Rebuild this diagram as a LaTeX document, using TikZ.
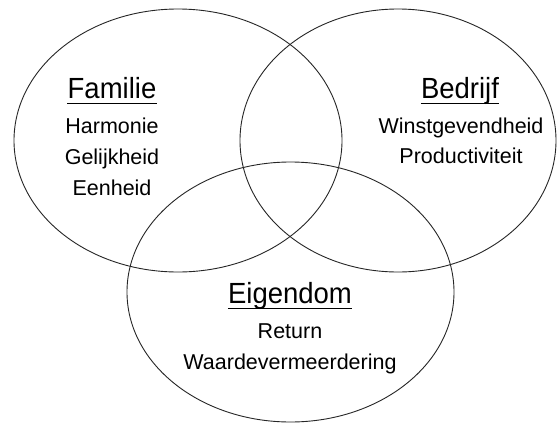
\documentclass[tikz,border=0pt]{standalone}
\usepackage{fontspec}
\setmainfont{Liberation Sans}
\begin{document}
\begin{tikzpicture}[x=1pt,y=-1pt,
  ring/.style={draw=black!85,line width=0.9pt},
  head/.style={anchor=base,inner sep=0pt,font=\fontsize{27.5}{33}\selectfont},
  item/.style={anchor=base,inner sep=0pt,font=\fontsize{21.5}{26}\selectfont},
  uline/.style={line width=1.9pt,black}]
\useasboundingbox (0,0) rectangle (558,424);
\fill[white] (0,0) rectangle (558,424);
% ellipses
\draw[ring] (178,140.5) ellipse [x radius=164pt, y radius=131.5pt];
\draw[ring] (398,140.5) ellipse [x radius=158pt, y radius=131.5pt];
\draw[ring] (290.5,292) ellipse [x radius=163.5pt, y radius=130pt];
% Familie
\node[head] (fam) at (112,98) {\scalebox{1}[1.06]{Familie}};
\node[item] (fam1) at (112,133) {Harmonie};
\node[item] (fam2) at (112,164) {Gelijkheid};
\node[item] (fam3) at (112,195) {Eenheid};
\draw[uline] ([yshift=-5.5pt]fam.base west) -- ([yshift=-5.5pt]fam.base east);
% Bedrijf
\node[head] (bed) at (460,98) {\scalebox{1}[1.06]{Bedrijf}};
\node[item] (bed1) at (461,133) {Winstgevendheid};
\node[item] (bed2) at (461,163) {Productiviteit};
\draw[uline] ([yshift=-5.5pt]bed.base west) -- ([yshift=-5.5pt]bed.base east);
% Eigendom
\node[head] (eig) at (290,303) {\scalebox{1}[1.06]{Eigendom}};
\node[item] (eig1) at (290,338) {Return};
\node[item] (eig2) at (290,369) {Waardevermeerdering};
\draw[uline] ([yshift=-5.5pt]eig.base west) -- ([yshift=-5.5pt]eig.base east);
\end{tikzpicture}
\end{document}
